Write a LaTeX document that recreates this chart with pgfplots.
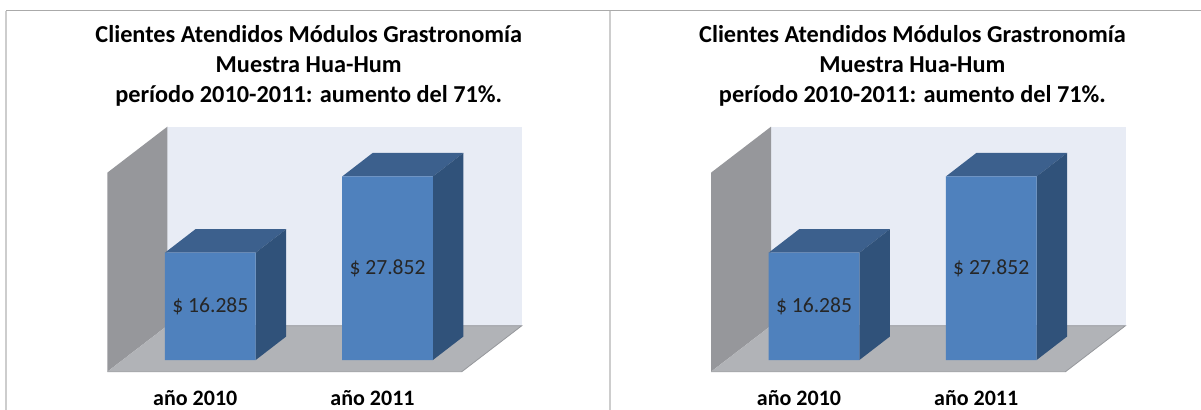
\documentclass[border=0pt]{standalone}
\usepackage{fontspec}
\setmainfont{Carlito}
\usepackage{pgfplots}
\pgfplotsset{compat=1.18}
\definecolor{wallback}{RGB}{232,236,245}
\definecolor{wallside}{RGB}{150,151,155}
\definecolor{floorc}{RGB}{177,179,183}
\definecolor{flooredge}{RGB}{150,152,156}
\definecolor{barfront}{RGB}{79,129,189}
\definecolor{bartop}{RGB}{60,96,141}
\definecolor{barside}{RGB}{48,82,122}
\definecolor{framec}{RGB}{170,170,170}
\definecolor{dividerc}{RGB}{205,205,205}
\newcommand{\titlefont}{\fontsize{24.4}{28}\selectfont\bfseries}
\newcommand{\panel}[1]{%
  \node[anchor=base, font=\titlefont] at (308.7bp+#1,-42.7bp) {Clientes Atendidos Módulos Grastronomía};
  \node[anchor=base, font=\titlefont] at (308.7bp+#1,-72.7bp) {Muestra Hua-Hum};
  \node[anchor=base, font=\titlefont] at (308.7bp+#1,-102.7bp) {período 2010-2011: aumento del 71\%.};
  \begin{axis}[
    at={(107.3bp+#1,-371.7bp)}, anchor=south west,
    scale only axis, width=414.5bp, height=245bp,
    xmin=-0.5815, xmax=1.7576, ymin=-1775, ymax=35402,
    axis line style={draw=none}, tick style={draw=none},
    ytick=\empty, xtick={-0.085,0.915},
    xticklabels={año 2010, año 2011},
    xticklabel style={anchor=base, yshift=-33.3bp, font=\fontsize{22.1}{26}\selectfont\bfseries},
    clip=false]
    % back wall
    \addplot[fill=wallback, draw=none] coordinates {(-0.2429,5205) (1.7576,5205) (1.7576,35402) (-0.2429,35402)};
    % left wall
    \addplot[fill=wallside, draw=none] coordinates {(-0.5815,-1775) (-0.2429,5205) (-0.2429,35402) (-0.5815,28422)};
    % floor
    \addplot[fill=floorc, draw=flooredge, line width=0.8bp] coordinates {(-0.5815,-1775) (1.4190,-1775) (1.7576,5205) (-0.2429,5205)};
    % bar tops
    \addplot[fill=bartop, draw=none] coordinates {(-0.256,16285) (0.256,16285) (0.428,19851) (-0.084,19851)};
    \addplot[fill=bartop, draw=none] coordinates {(0.744,27852) (1.256,27852) (1.428,31418) (0.916,31418)};
    % bar sides
    \addplot[fill=barside, draw=none] coordinates {(0.256,0) (0.428,3566) (0.428,19851) (0.256,16285)};
    \addplot[fill=barside, draw=none] coordinates {(1.256,0) (1.428,3566) (1.428,31418) (1.256,27852)};
    % bar fronts
    \addplot[ybar, bar width=0.512, bar shift=0pt, fill=barfront, draw=none] coordinates {(0,16285) (1,27852)};
    % value labels
    \addplot[draw=none, mark=none, nodes near coords, point meta=explicit symbolic,
      nodes near coords align={center},
      every node near coord/.append style={anchor=center, font=\fontsize{21.7}{26}\selectfont, text=black!85}]
      coordinates {(0,8142) [\$ 16.285] (1,13926) [\$ 27.852]};
  \end{axis}}
\begin{document}
\begin{tikzpicture}
  \useasboundingbox (0,0) rectangle (1201bp,-410bp);
  \draw[framec, line width=1.2bp] (6bp,-10.7bp) -- (1201bp,-10.7bp);
  \draw[dividerc, line width=1.5bp] (6bp,-10.7bp) -- (6bp,-410bp);
  \draw[dividerc, line width=2.5bp] (610bp,-10.7bp) -- (610bp,-410bp);
  \panel{0bp}
  \panel{603.7bp}
\end{tikzpicture}
\end{document}
